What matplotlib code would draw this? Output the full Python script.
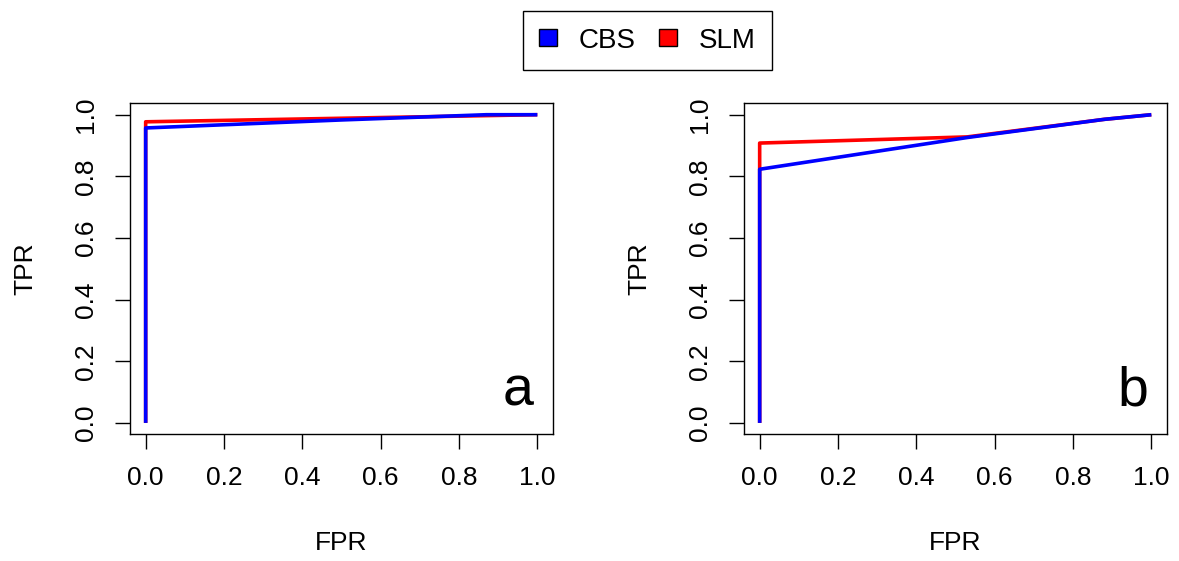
import matplotlib
matplotlib.use('Agg')
import matplotlib.pyplot as plt
from matplotlib.patches import Patch

plt.rcParams['font.family'] = ['Liberation Sans', 'DejaVu Sans']

# ROC points
fpr_a_cbs = [0.0, 0.0, 0.5, 0.87, 1.0]
tpr_a_cbs = [0.0, 0.957, 0.983, 1.0, 1.0]
fpr_a_slm = [0.0, 0.0, 1.0]
tpr_a_slm = [0.0, 0.977, 1.0]

fpr_b_cbs = [0.0, 0.0, 0.53, 0.88, 1.0]
tpr_b_cbs = [0.0, 0.823, 0.926, 0.985, 1.0]
fpr_b_slm = [0.0, 0.0, 0.53, 0.88, 1.0]
tpr_b_slm = [0.0, 0.908, 0.928, 0.985, 1.0]

ticks = [0.0, 0.2, 0.4, 0.6, 0.8, 1.0]
tick_labels = ['0.0', '0.2', '0.4', '0.6', '0.8', '1.0']
panel_tags = ['a', 'b']

W, H = 1179, 561
fig = plt.figure(figsize=(W / 100, H / 100), dpi=100)

def box(l, t, r, b):
    return [l / W, 1 - b / H, (r - l) / W, (b - t) / H]

ax_a = fig.add_axes(box(130, 103, 553, 434))
ax_b = fig.add_axes(box(744, 103, 1167, 434))

panels = [
    (ax_a, fpr_a_slm, tpr_a_slm, fpr_a_cbs, tpr_a_cbs),
    (ax_b, fpr_b_slm, tpr_b_slm, fpr_b_cbs, tpr_b_cbs),
]

fs = 19
for (ax, xs, ys, xc, yc), tag in zip(panels, panel_tags):
    ax.plot(xs, ys, color='red', lw=2.6, solid_capstyle='butt')
    ax.plot(xc, yc, color='blue', lw=2.6, solid_capstyle='butt')
    ax.set_xlim(-0.04, 1.04)
    ax.set_ylim(-0.036, 1.038)
    ax.set_xticks(ticks)
    ax.set_xticklabels(tick_labels)
    ax.set_yticks(ticks)
    ax.set_yticklabels(tick_labels, rotation=90, va='center')
    ax.tick_params(direction='out', length=11, width=1, labelsize=fs, pad=12)
    for s in ax.spines.values():
        s.set_linewidth(1)
    ax.set_xlabel('FPR', fontsize=fs)
    ax.set_ylabel('TPR', fontsize=fs)
    ax.xaxis.set_label_coords(0.5, (434 - 543) / 331)
    ax.xaxis.label.set_va('center')
    ax.yaxis.set_label_coords((25 - 130) / 423, 0.5)
    ax.yaxis.label.set_va('center')
    ax.text(0.955, 0.05, tag, transform=ax.transAxes, fontsize=40,
            ha='right', va='bottom')

handles = [Patch(facecolor='blue', edgecolor='black', label='CBS'),
           Patch(facecolor='red', edgecolor='black', label='SLM')]
leg = fig.legend(handles=handles, loc='center', ncol=2,
                 bbox_to_anchor=(647.5 / W, 1 - 40.5 / H), fontsize=20,
                 fancybox=False, edgecolor='black', framealpha=1,
                 handlelength=0.62, handleheight=0.57, columnspacing=0.85,
                 borderpad=0.58, handletextpad=0.8)
leg.get_frame().set_linewidth(1)

fig.savefig('out.png', dpi=100)
